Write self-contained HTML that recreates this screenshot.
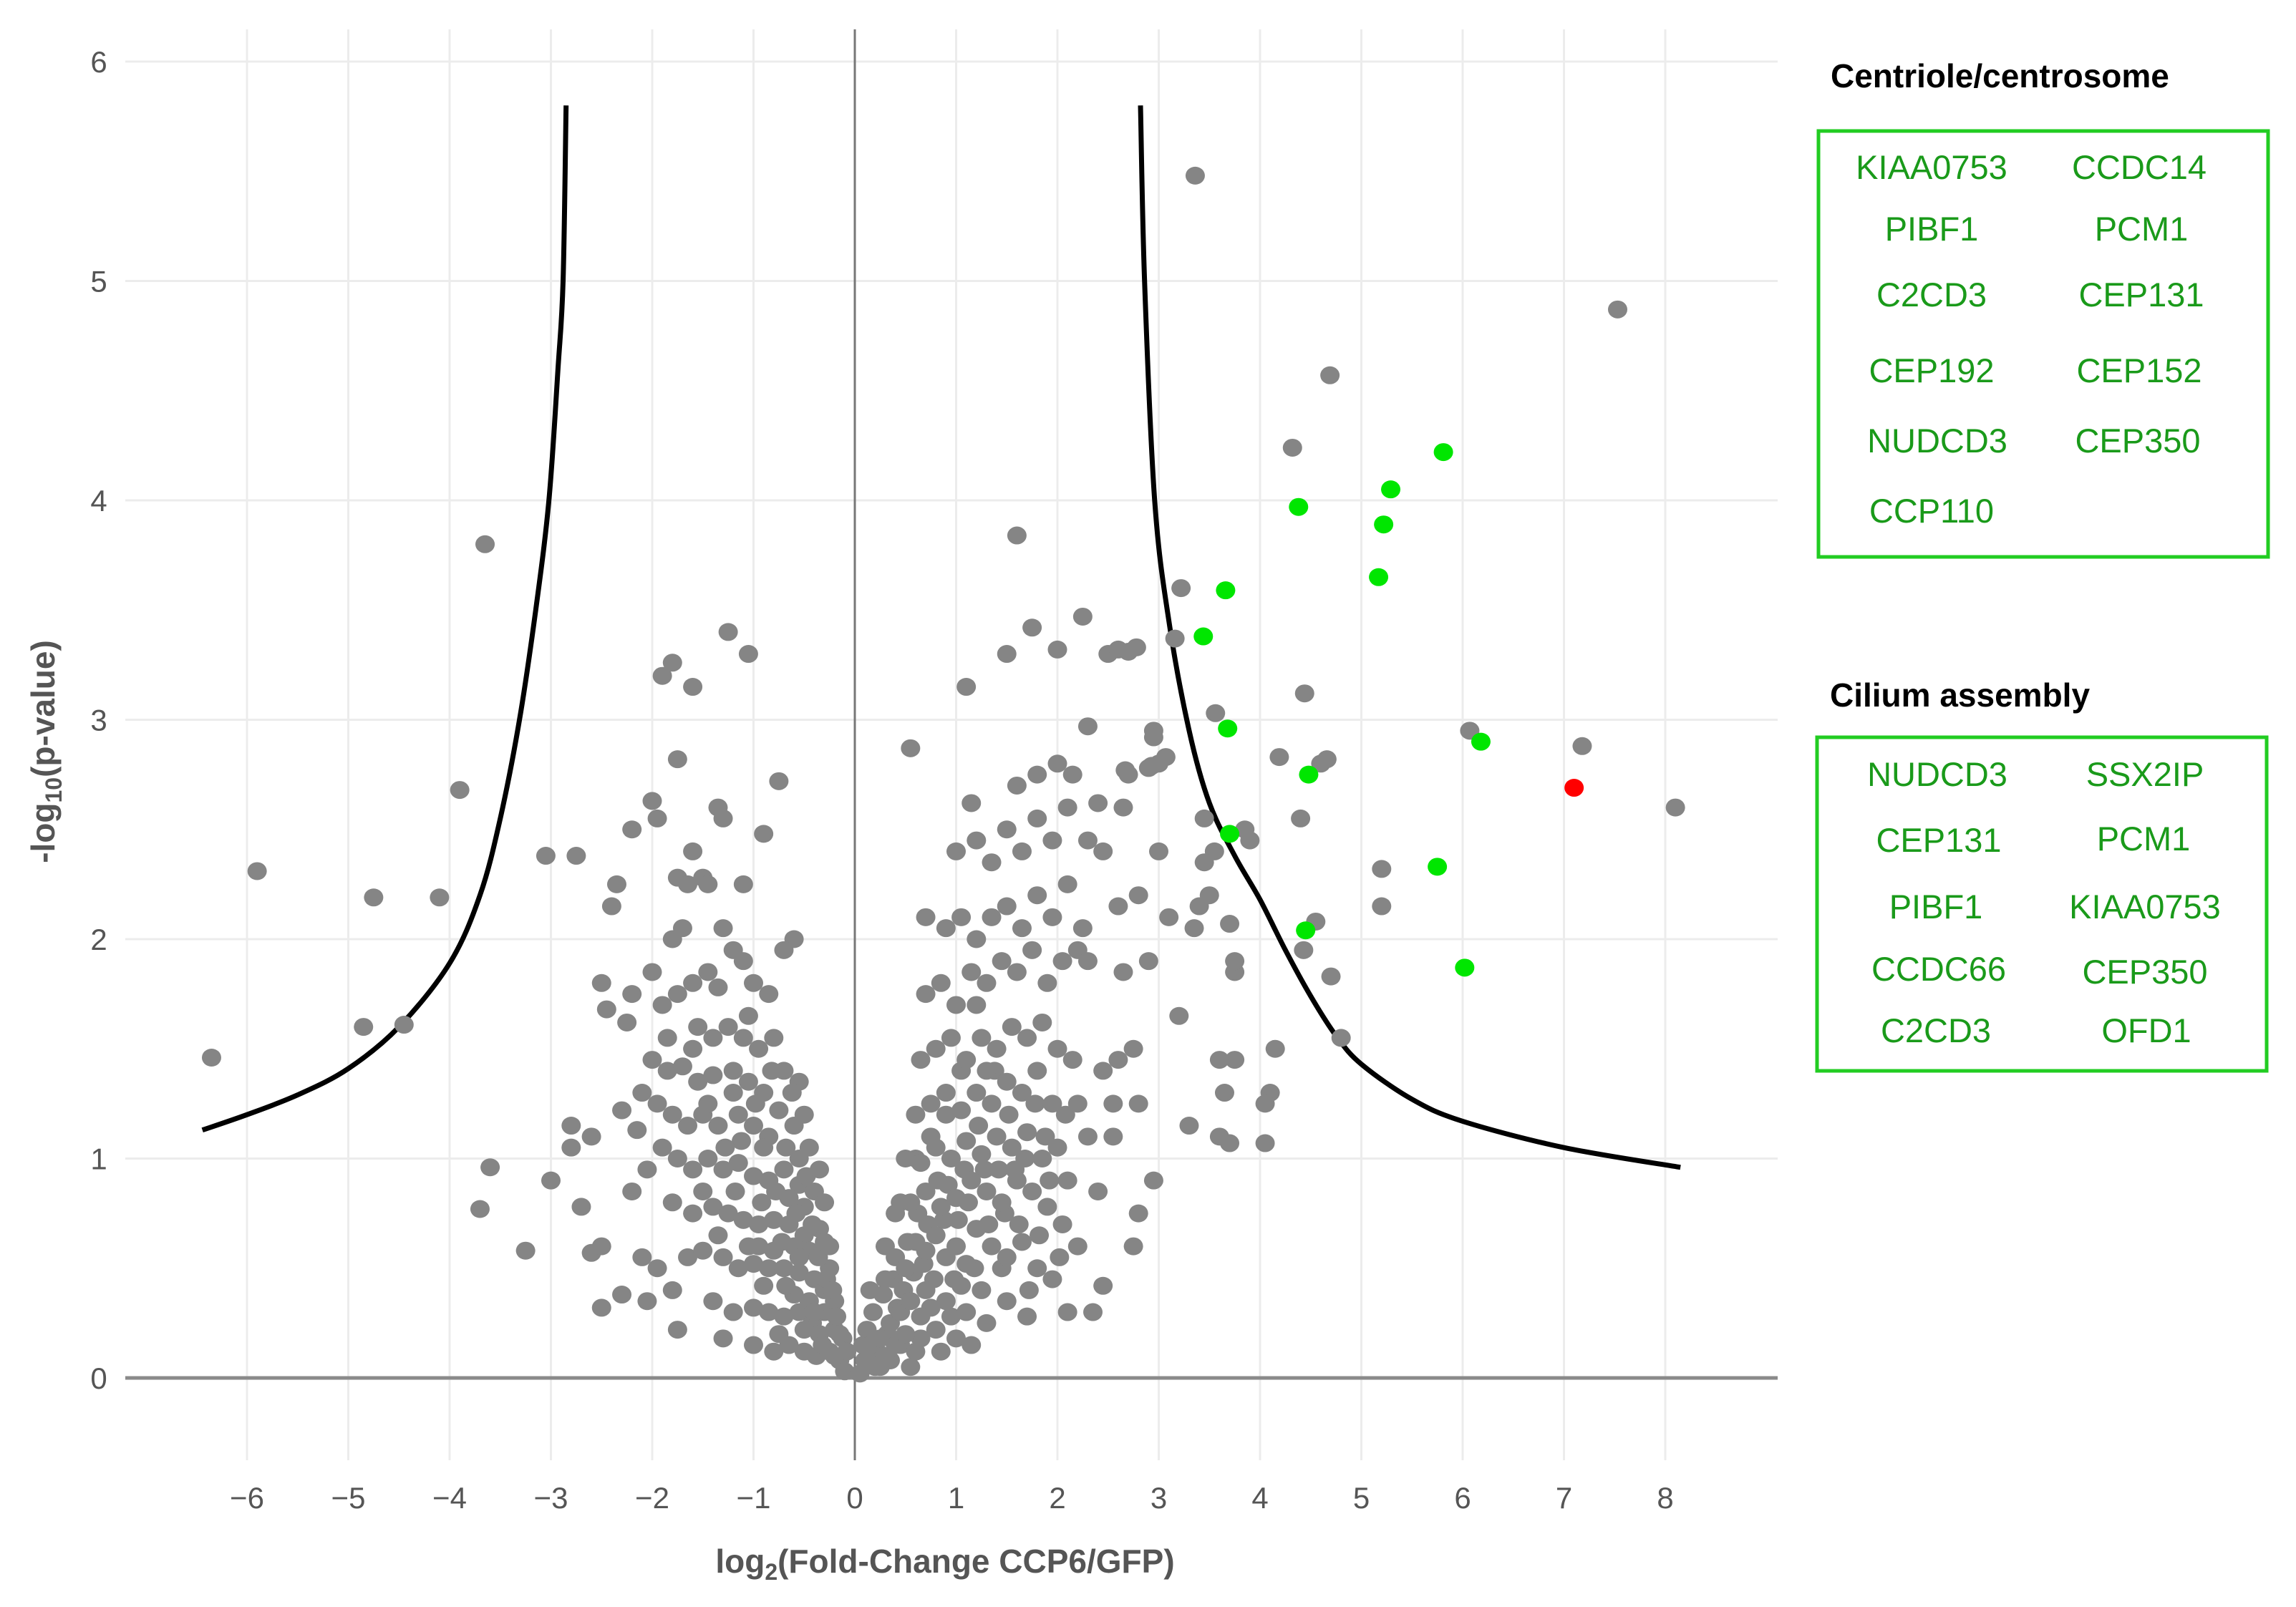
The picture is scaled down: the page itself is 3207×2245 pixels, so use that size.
<!DOCTYPE html>
<html><head><meta charset="utf-8"><style>
html,body{margin:0;padding:0;background:#fff;}
svg{display:block;font-family:"Liberation Sans",sans-serif;}
</style></head><body>
<svg id="chart" width="3207" height="2245" viewBox="0 0 3207 2245" xmlns="http://www.w3.org/2000/svg">
<g id="grid"></g>
<g id="axes"></g>
<g id="curves"></g>
<g id="points"></g>
<g id="labels"></g>
<text x="1320" y="2197" text-anchor="middle" font-size="46" font-weight="bold" fill="#555">log<tspan font-size="32" dy="10">2</tspan><tspan dy="-10">(Fold-Change CCP6/GFP)</tspan></text>
<text transform="translate(76,1050) rotate(-90)" text-anchor="middle" font-size="46" font-weight="bold" fill="#555">-log<tspan font-size="32" dy="10">10</tspan><tspan dy="-10">(p-value)</tspan></text>

<g>
<text x="2557" y="122" font-size="46" font-weight="bold" fill="#000">Centriole/centrosome</text>
<rect x="2540" y="183" width="628" height="595" fill="none" stroke="#22cc22" stroke-width="5"/>
<g font-size="47" fill="#1a9a1a" text-anchor="middle" transform="translate(-14,0)">
<text x="2712" y="250">KIAA0753</text>
<text x="3002" y="250">CCDC14</text>
<text x="2712" y="336">PIBF1</text>
<text x="3005" y="336">PCM1</text>
<text x="2712" y="428">C2CD3</text>
<text x="3005" y="428">CEP131</text>
<text x="2712" y="534">CEP192</text>
<text x="3002" y="534">CEP152</text>
<text x="2720" y="632">NUDCD3</text>
<text x="3000" y="632">CEP350</text>
<text x="2712" y="730">CCP110</text>
</g>
</g>

<g>
<text x="2556" y="987" font-size="46" font-weight="bold" fill="#000">Cilium assembly</text>
<rect x="2538" y="1030" width="628" height="466" fill="none" stroke="#22cc22" stroke-width="5"/>
<g font-size="47" fill="#1a9a1a" text-anchor="middle" transform="translate(-14,0)">
<text x="2720" y="1098">NUDCD3</text>
<text x="3010" y="1098">SSX2IP</text>
<text x="2722" y="1190">CEP131</text>
<text x="3008" y="1188">PCM1</text>
<text x="2718" y="1283">PIBF1</text>
<text x="3010" y="1283">KIAA0753</text>
<text x="2722" y="1370">CCDC66</text>
<text x="3010" y="1374">CEP350</text>
<text x="2718" y="1456">C2CD3</text>
<text x="3012" y="1456">OFD1</text>
</g>
</g>
</svg>
<script>
const xTicks = [-6,-5,-4,-3,-2,-1,0,1,2,3,4,5,6,7,8];
const yTicks = [0,1,2,3,4,5,6];
const leftCurve = [[-6.44,1.13],[-6,1.2],[-5.5,1.29],[-5,1.41],[-4.5,1.6],[-4,1.89],[-3.7,2.2],[-3.5,2.55],[-3.31,3.0],[-3.15,3.5],[-3.02,4.0],[-2.93,4.6],[-2.88,5.0],[-2.85,5.8]];
const rightCurve = [[2.82,5.8],[2.86,5.0],[2.96,4.0],[3.1,3.45],[3.3,2.95],[3.5,2.62],[3.75,2.38],[4.0,2.18],[4.25,1.95],[4.5,1.74],[4.75,1.56],[5,1.43],[5.5,1.27],[6,1.17],[7,1.05],[8.15,0.96]];
const greenPts = [[5.81,4.22],[5.29,4.05],[4.38,3.97],[5.22,3.89],[5.17,3.65],[3.66,3.59],[3.44,3.38],[3.68,2.96],[6.18,2.90],[4.48,2.75],[3.7,2.48],[5.75,2.33],[4.45,2.04],[6.02,1.87]];
const redPts = [[7.10,2.69]];
const grayPts = [
[3.36,5.48],[7.53,4.87],[4.69,4.57],[4.32,4.24],[3.22,3.60],[3.16,3.37],[2.70,3.31],[2.78,3.33],[4.44,3.12],[3.56,3.03],[2.95,2.95],[6.07,2.95],[7.18,2.88],[4.19,2.83],[4.6,2.8],[4.66,2.82],[2.67,2.77],[2.93,2.79],[3.07,2.83],
[8.1,2.6],[4.4,2.55],[3.9,2.45],[3.85,2.5],[5.2,2.32],[5.2,2.15],[4.55,2.08],[4.43,1.95],[4.7,1.83],[4.8,1.55],[4.15,1.5],[4.1,1.3],[4.05,1.25],[4.05,1.07],[3.75,1.45],[3.6,1.45],[3.65,1.3],[3.6,1.1],[3.7,1.07],[3.75,1.85],[3.75,1.9],[3.7,2.07],[3.55,2.4],[3.45,2.35],[3.5,2.2],[3.2,1.65],[3.3,1.15],[3.35,2.05],[3.4,2.15],[3.45,2.55],
[-6.35,1.46],[-5.9,2.31],[-4.75,2.19],[-4.1,2.19],[-4.85,1.6],[-4.45,1.61],[-3.9,2.68],[-3.65,3.8],[-3.05,2.38],[-2.75,2.38],[-3.6,0.96],[-3.7,0.77],[-3.25,0.58],[-3.0,0.9],[-2.8,1.15],[-2.8,1.05],[-2.6,1.1],[-2.7,0.78],[-2.6,0.57],[-2.5,0.6],[-2.5,0.32],[-2.3,0.38],[-2.5,1.8],[-2.45,1.68],[-2.25,1.62],[-2.2,1.75],[-2.3,1.22],[-2.15,1.13],[-2.2,0.85],[-2.05,0.95],[-2.1,0.55],[-1.95,0.5],[-2.05,0.35],[-1.8,0.4],[-1.75,0.22],[-1.9,3.2],[-1.8,3.26],[-1.6,3.15],[-1.25,3.4],[-1.05,3.3],[-1.75,2.82],[-0.75,2.72],[-2.0,2.63],[-1.95,2.55],[-2.2,2.5],[-1.35,2.6],[-1.3,2.55],[-0.9,2.48],[-1.6,2.4],[-1.75,2.28],[-1.65,2.25],[-1.5,2.28],[-1.45,2.25],[-2.35,2.25],[-2.4,2.15],[-1.1,2.25],[-1.8,2.0],[-1.7,2.05],[-1.3,2.05],[-1.2,1.95],[-1.1,1.9],[-0.6,2.0],[-0.7,1.95],
[-2.0,1.85],[-1.9,1.7],[-1.75,1.75],[-1.6,1.8],[-1.45,1.85],[-1.35,1.78],[-1.0,1.8],[-0.85,1.75],[-1.55,1.6],[-1.4,1.55],[-1.25,1.6],[-1.1,1.55],[-0.95,1.5],[-0.8,1.55],[-2.0,1.45],[-1.85,1.4],[-1.7,1.42],[-1.55,1.35],[-1.4,1.38],[-1.2,1.4],[-1.05,1.35],[-0.9,1.3],[-0.7,1.4],[-0.55,1.35],[-2.1,1.3],[-1.95,1.25],[-1.8,1.2],[-1.65,1.15],[-1.5,1.2],[-1.35,1.15],[-1.15,1.2],[-1.0,1.15],[-0.85,1.1],[-0.6,1.15],[-0.45,1.05],
[-1.9,1.05],[-1.75,1.0],[-1.6,0.95],[-1.45,1.0],[-1.3,0.95],[-1.15,0.98],[-1.0,0.92],[-0.85,0.9],[-0.7,0.95],[-0.55,0.88],[-0.4,0.85],[-1.8,0.8],[-1.6,0.75],[-1.4,0.78],[-1.25,0.75],[-1.1,0.72],[-0.95,0.7],[-0.8,0.72],[-0.65,0.7],[-0.5,0.65],[-0.35,0.68],[-1.65,0.55],[-1.5,0.58],[-1.3,0.55],[-1.15,0.5],[-1.0,0.52],[-0.85,0.5],[-0.7,0.5],[-0.55,0.48],[-0.4,0.45],[-0.25,0.5],[-1.4,0.35],[-1.2,0.3],[-1.0,0.32],[-0.85,0.3],[-0.7,0.28],[-0.55,0.3],[-0.42,0.25],[-0.3,0.3],[-0.2,0.22],[-1.3,0.18],[-1.0,0.15],[-0.8,0.12],[-0.65,0.15],[-0.5,0.12],[-0.38,0.1],[-0.25,0.12],[-0.15,0.08],[-0.1,0.03],[-0.6,0.6],[-0.45,0.58],[-0.3,0.4],[-0.2,0.35],[-0.65,0.82],[-0.5,0.78],[-0.35,0.2],[-0.75,1.22],[-0.9,1.05],[-1.05,1.65],[-1.2,1.3],[-1.6,1.5],[-1.85,1.55],
[-1.12,1.08],[-0.98,1.25],[-0.82,1.4],[-0.68,1.05],[-0.62,1.3],[-0.92,0.8],[-0.78,0.85],[-0.72,0.62],[-0.58,0.75],[-0.48,0.92],[-0.42,0.7],[-0.36,0.55],[-0.3,0.62],[-0.28,0.45],[-0.22,0.4],[-0.18,0.28],[-0.12,0.18],[-0.08,0.12],[-0.45,0.35],[-0.5,0.22],[-0.6,0.38],[-0.68,0.42],[-0.75,0.2],[-0.9,0.42],[-1.05,0.6],[-1.18,0.85],[-1.35,0.65],[-1.5,0.85],[-1.28,1.05],[-1.45,1.25],[-0.95,0.6],[-0.8,0.58],[-0.55,0.55],[-0.4,0.3],[-0.32,0.15],[-0.2,0.1],[-0.15,0.2],[-0.55,1.0],[-0.5,1.2],[-0.35,0.95],[-0.3,0.8],[-0.25,0.6],
[0.12,0.22],[0.18,0.3],[0.22,0.12],[0.28,0.38],[0.32,0.2],[0.38,0.45],[0.42,0.32],[0.48,0.4],[0.52,0.62],[0.58,0.48],[0.62,0.75],[0.68,0.52],[0.72,0.7],[0.78,0.45],[0.82,0.9],[0.88,0.72],[0.92,0.88],[0.98,0.45],[1.02,0.72],[1.08,0.95],[1.12,0.8],[1.18,0.5],[1.22,1.15],[1.28,0.95],[1.32,0.7],[1.38,1.4],[1.42,0.95],[1.48,0.75],[1.52,1.2],[1.58,0.95],[1.62,0.7],[1.68,1.0],[1.72,0.4],[1.78,1.25],[1.82,0.65],[1.88,1.1],[1.92,0.9],[2.02,0.55],[2.08,1.2],[0.25,0.05],[0.35,0.08],[0.45,0.15],[0.55,0.05],[0.65,0.18],[0.75,0.32],[0.85,0.12],[0.95,0.28],[1.05,0.42],[1.15,0.15],[1.25,0.4],[1.45,0.5],[0.08,0.15],[0.15,0.4],[0.3,0.6],[0.45,0.8],[0.6,1.0],[0.75,1.1],[0.9,1.2],[1.05,1.4],[1.2,1.7],[1.3,1.4],
[0.05,0.02],[0.1,0.08],[0.2,0.05],[0.15,0.15],[0.25,0.18],[0.3,0.1],[0.35,0.25],[0.4,0.15],[0.45,0.3],[0.5,0.2],[0.55,0.35],[0.6,0.12],[0.65,0.28],[0.7,0.4],[0.8,0.22],[0.9,0.35],[1.0,0.18],[1.1,0.3],[1.3,0.25],[1.5,0.35],[1.7,0.28],[0.3,0.45],[0.4,0.55],[0.5,0.5],[0.6,0.62],[0.7,0.58],[0.8,0.65],[0.9,0.55],[1.0,0.6],[1.1,0.52],[1.2,0.68],[1.35,0.6],[1.5,0.55],[1.65,0.62],[1.8,0.5],[0.4,0.75],[0.55,0.8],[0.7,0.85],[0.85,0.78],[1.0,0.82],[1.15,0.9],[1.3,0.85],[1.45,0.8],[1.6,0.9],[1.75,0.85],[1.9,0.78],[2.05,0.7],[0.5,1.0],[0.65,0.98],[0.8,1.05],[0.95,1.0],[1.1,1.08],[1.25,1.02],[1.4,1.1],[1.55,1.05],[1.7,1.12],[1.85,1.0],[2.0,1.05],[0.6,1.2],[0.75,1.25],[0.9,1.3],[1.05,1.22],[1.2,1.3],[1.35,1.25],[1.5,1.35],[1.65,1.3],[1.8,1.4],[1.95,1.25],[0.65,1.45],[0.8,1.5],[0.95,1.55],[1.1,1.45],[1.25,1.55],[1.4,1.5],[1.55,1.6],[1.7,1.55],[1.85,1.62],[2.0,1.5],[2.15,1.45],
[0.7,1.75],[0.85,1.8],[1.0,1.7],[1.15,1.85],[1.3,1.8],[1.45,1.9],[1.6,1.85],[1.75,1.95],[1.9,1.8],[2.05,1.9],[2.2,1.95],[0.9,2.05],[1.05,2.1],[1.2,2.0],[1.35,2.1],[1.5,2.15],[1.65,2.05],[1.8,2.2],[1.95,2.1],[2.1,2.25],[2.25,2.05],[1.0,2.4],[1.2,2.45],[1.35,2.35],[1.5,2.5],[1.65,2.4],[1.8,2.55],[1.95,2.45],[2.1,2.6],[2.3,2.45],[2.45,2.4],[1.6,2.7],[1.8,2.75],[2.0,2.8],[2.15,2.75],[2.4,2.62],
[0.55,2.87],[1.1,3.15],[1.6,3.84],[1.5,3.3],[1.75,3.42],[2.0,3.32],[2.25,3.47],[2.5,3.3],[2.6,3.32],[2.3,2.97],[1.15,2.62],[0.7,2.1],[2.65,2.6],[2.7,2.75],[2.9,2.78],[3.0,2.8],[2.95,2.92],[2.6,2.15],[2.8,2.2],[3.0,2.4],[3.1,2.1],[2.9,1.9],[2.65,1.85],[2.3,1.9],[2.75,1.5],[2.6,1.45],[2.45,1.4],[2.8,1.25],[2.55,1.25],[2.2,1.25],[2.3,1.1],[2.55,1.1],[2.95,0.9],[2.8,0.75],[2.75,0.6],[2.45,0.42],[2.35,0.3],[2.1,0.3],[1.95,0.45],[2.2,0.6],[2.4,0.85],[2.1,0.9]
];

const NS = 'http://www.w3.org/2000/svg';
const X0 = 1194, XU = 141.5, Y0 = 1925, YU = 306.5;
function sx(v){ return X0 + v*XU; }
function sy(v){ return Y0 - v*YU; }
function mk(parent, tag, attrs){
  const e = document.createElementNS(NS, tag);
  for (const k in attrs) e.setAttribute(k, attrs[k]);
  parent.appendChild(e);
  return e;
}
const grid = document.getElementById('grid');
xTicks.forEach(t => {
  const l = mk(grid, 'line', {x1:sx(t), x2:sx(t), y1:41, y2:2040, stroke:'#ececec', 'stroke-width':3});
  
  
});
yTicks.forEach(t => {
  if (t === 0) return;
  const l = mk(grid, 'line', {x1:175, x2:2483, y1:sy(t), y2:sy(t), stroke:'#ececec', 'stroke-width':3});
  
  
});
const axes = document.getElementById('axes');
const xa = mk(axes, 'line', {x1:175, x2:2483, y1:sy(0), y2:sy(0), stroke:'#8a8a8a', 'stroke-width':5});


const ya = mk(axes, 'line', {x1:sx(0), x2:sx(0), y1:41, y2:2040, stroke:'#777', 'stroke-width':3});



const labels = document.getElementById('labels');
xTicks.forEach(t => {
  const e = mk(labels, 'text', {x:sx(t), y:2107, 'text-anchor':'middle', 'font-size':42, fill:'#555'});
  e.textContent = t < 0 ? '\u2212' + Math.abs(t) : String(t);
  
  
});
yTicks.forEach(t => {
  const e = mk(labels, 'text', {x:138, y:sy(t)+15, 'text-anchor':'middle', 'font-size':42, fill:'#555'});
  e.textContent = String(t);
  
  
});

const curves = document.getElementById('curves');
function curvePath(arr){
  const P = arr.map(p => [sx(p[0]), sy(p[1])]);
  let d = 'M' + P[0][0].toFixed(1) + ' ' + P[0][1].toFixed(1);
  for (let i = 0; i < P.length - 1; i++) {
    const p0 = P[Math.max(0,i-1)], p1 = P[i], p2 = P[i+1], p3 = P[Math.min(P.length-1,i+2)];
    const c1x = p1[0] + (p2[0]-p0[0])/6, c1y = p1[1] + (p2[1]-p0[1])/6;
    const c2x = p2[0] - (p3[0]-p1[0])/6, c2y = p2[1] - (p3[1]-p1[1])/6;
    d += ' C' + c1x.toFixed(1) + ' ' + c1y.toFixed(1) + ' ' + c2x.toFixed(1) + ' ' + c2y.toFixed(1) + ' ' + p2[0].toFixed(1) + ' ' + p2[1].toFixed(1);
  }
  return d;
}
const lc = mk(curves, 'path', {d:curvePath(leftCurve), fill:'none', stroke:'#000', 'stroke-width':7, 'stroke-linejoin':'round'});


const rc = mk(curves, 'path', {d:curvePath(rightCurve), fill:'none', stroke:'#000', 'stroke-width':7, 'stroke-linejoin':'round'});



const pts = document.getElementById('points');
grayPts.forEach(p => {
  const c = mk(pts, 'ellipse', {cx:sx(p[0]), cy:sy(p[1]), rx:13.5, ry:12.5, fill:'#858585'});
  
  
});
greenPts.forEach(p => {
  const c = mk(pts, 'ellipse', {cx:sx(p[0]), cy:sy(p[1]), rx:13.5, ry:12.5, fill:'#00e600'});
  
  
});
redPts.forEach(p => {
  const c = mk(pts, 'ellipse', {cx:sx(p[0]), cy:sy(p[1]), rx:13.5, ry:12.5, fill:'#ff0000'});
  
  
});
</script>
</body></html>
